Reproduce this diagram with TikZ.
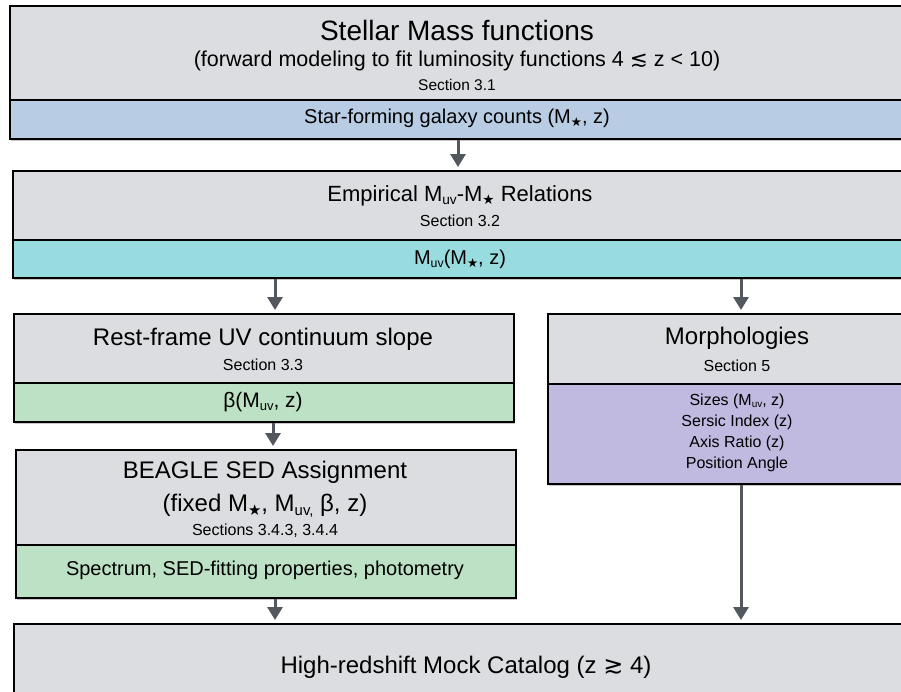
\documentclass[tikz,border=0pt]{standalone}
\usepackage{fontspec}
\usepackage{graphicx}
\setmainfont{Liberation Sans}
\newfontfamily\dv{DejaVu Sans}
\usetikzlibrary{shadows,arrows.meta}
\definecolor{boxgray}{HTML}{DCDDE0}
\definecolor{bandblue}{HTML}{B8CCE4}
\definecolor{bandteal}{HTML}{98DCE0}
\definecolor{bandgreen}{HTML}{BCE1C4}
\definecolor{bandpurple}{HTML}{C0B9E0}
\definecolor{arrowgray}{HTML}{53575E}
\newcommand\fs[1]{\fontsize{#1}{#1}\selectfont}
\newcommand\lsub[1]{\raisebox{-0.28ex}{\scalebox{0.62}{#1}}}
\newcommand\Mst{M\lsub{\dv ★}}
\newcommand\Muv{M\lsub{uv}}
\tikzset{
  panel/.style={draw=black, line width=1.5pt, inner sep=0pt, anchor=north west,
    drop shadow={shadow xshift=1.2pt, shadow yshift=-2pt, opacity=0.22, fill=black}},
  txt/.style={inner sep=0pt, anchor=center, text=black},
  arr/.style={line width=3pt, draw=arrowgray, -{Triangle[width=15pt,length=13pt,fill=arrowgray]}}
}
\begin{document}
\begin{tikzpicture}[x=1pt,y=-1pt]
\useasboundingbox (0,0) rectangle (901,691);
\fill[white] (0,0) rectangle (901,691);
% box 1
\node[panel, fill=boxgray, minimum width=897pt, minimum height=94pt] (b1top) at (9,5) {};
\node[panel, fill=bandblue, minimum width=897pt, minimum height=39pt] (b1band) at (9,99) {};
\node[txt] (t1a) at (457,30) {\fs{28}Stellar Mass functions};
\node[txt] (t1b) at (457,61) {\fs{21.5}(forward modeling to fit luminosity functions 4 {\dv ≲} z < 10)};
\node[txt] (t1c) at (457,85) {\fs{15.5}Section 3.1};
\node[txt] (t1d) at (457,118) {\fs{20}Star-forming galaxy counts (\Mst, z)};
% box 2
\node[panel, fill=boxgray, minimum width=897pt, minimum height=69pt] (b2top) at (12,170) {};
\node[panel, fill=bandteal, minimum width=897pt, minimum height=38pt] (b2band) at (12,239) {};
\node[txt] (t2a) at (460,196) {\fs{22}Empirical \Muv-\Mst{} Relations};
\node[txt] (t2b) at (460,221) {\fs{16}Section 3.2};
\node[txt] (t2c) at (460,259) {\fs{20}\Muv(\Mst, z)};
% box 3
\node[panel, fill=boxgray, minimum width=500pt, minimum height=69pt] (b3top) at (13,313) {};
\node[panel, fill=bandgreen, minimum width=500pt, minimum height=39pt] (b3band) at (13,382) {};
\node[txt] (t3a) at (263,339) {\fs{24}Rest-frame UV continuum slope};
\node[txt] (t3b) at (263,365) {\fs{16}Section 3.3};
\node[txt] (t3c) at (263,402) {\fs{21}β(\Muv, z)};
% morphologies
\node[panel, fill=boxgray, minimum width=381pt, minimum height=70pt] (mtop) at (547,313) {};
\node[panel, fill=bandpurple, minimum width=381pt, minimum height=100pt] (mband) at (547,383) {};
\node[txt] (tma) at (737,338) {\fs{24}Morphologies};
\node[txt] (tmb) at (737,366) {\fs{16}Section 5};
\node[txt] (tmc) at (737,401) {\fs{16}Sizes (\Muv, z)};
\node[txt] (tmd) at (737,422) {\fs{16}Sersic Index (z)};
\node[txt] (tme) at (737,443) {\fs{16}Axis Ratio (z)};
\node[txt] (tmf) at (737,464) {\fs{16}Position Angle};
% BEAGLE
\node[panel, fill=boxgray, minimum width=500pt, minimum height=95pt] (b4top) at (15,449) {};
\node[panel, fill=bandgreen, minimum width=500pt, minimum height=53pt] (b4band) at (15,544) {};
\node[txt] (t4a) at (265,472) {\fs{24}BEAGLE SED Assignment};
\node[txt] (t4b) at (265,506) {\fs{24}(fixed \Mst, M\lsub{uv,} β, z)};
\node[txt] (t4c) at (265,531) {\fs{16}Sections 3.4.3, 3.4.4};
\node[txt] (t4d) at (265,570) {\fs{20}Spectrum, SED-fitting properties, photometry};
% bottom
\node[panel, fill=boxgray, minimum width=905pt, minimum height=110pt] (b5) at (13,623) {};
\node[txt] (t5) at (466,667) {\fs{24}High-redshift Mock Catalog (z {\dv ≳} 4)};
% arrows
\coordinate (xa) at (458,0);
\coordinate (xl) at (275,0);
\coordinate (xm) at (273,0);
\coordinate (xr) at (741,0);
\draw[arr] (b1band.south -| xa) -- ([yshift=3pt]b2top.north -| xa);
\draw[arr] (b2band.south -| xl) -- ([yshift=3pt]b3top.north -| xl);
\draw[arr] (b2band.south -| xr) -- ([yshift=3pt]mtop.north -| xr);
\draw[arr] (b3band.south -| xm) -- ([yshift=3pt]b4top.north -| xm);
\draw[arr] (b4band.south -| xl) -- ([yshift=3pt]b5.north -| xl);
\draw[arr] (mband.south -| xr) -- ([yshift=3pt]b5.north -| xr);
\end{tikzpicture}
\end{document}
